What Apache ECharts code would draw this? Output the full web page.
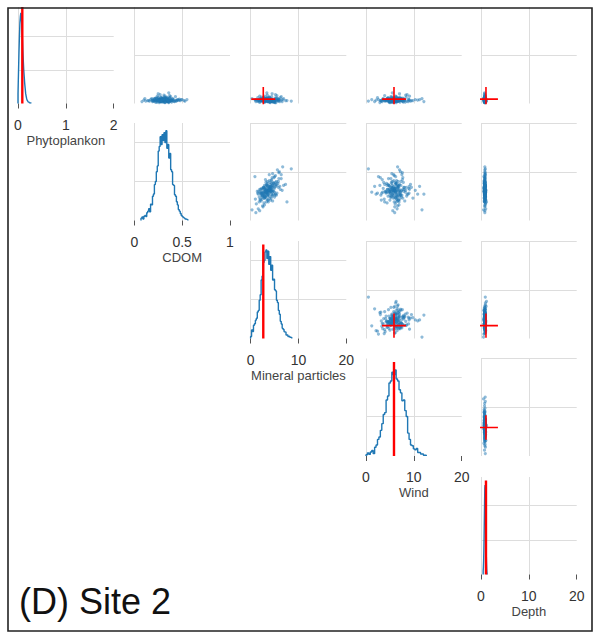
<!DOCTYPE html>
<html><head><meta charset="utf-8">
<script src="https://cdn.jsdelivr.net/npm/echarts@6/dist/echarts.min.js"></script>
<style>html,body{margin:0;padding:0;background:#fff}#c{width:596px;height:633px}</style>
</head><body><div id="c"></div>
<script>
// ---------- data ----------
const varNames = ['Phytoplankon', 'CDOM', 'Mineral particles', 'Wind', 'Depth'];
const axisMax = [2, 1, 20, 20, 20];
const axisStep = [1, 0.5, 10, 10, 10];
const trueValues = [0.09, null, 2.65, 5.85, 1.04];

// histogram bins (start, width, counts in grid units)
const phytoHistStart = 0, phytoHistStep = 0.01;
const phytoCounts = [0.3,0.9,1.5,2.0,2.4,2.6,2.7,2.55,2.3,2.0,1.6,1.3,1.0,0.8,0.6,0.45,0.3,0.22,0.15,0.1,0.08,0.05,0.04,0.03,0.02,0.02,0.01,0.01];
const cdomHistStart = 0.07, cdomHistStep = 0.01;
const cdomCounts = [0.06,0.09,0.04,0.11,0.13,0.1,0.2,0.24,0.3,0.22,0.42,0.4,0.62,0.68,0.92,1.0,1.25,1.4,1.78,1.9,2.15,1.95,2.2,2.05,2.25,2.0,2.3,1.85,1.95,1.6,1.72,1.3,1.25,0.92,0.9,0.66,0.62,0.48,0.4,0.28,0.24,0.18,0.13,0.1,0.08,0.06,0.04,0.03,0.02];
const mineralHistStart = 0, mineralHistStep = 0.2;
const mineralCounts = [0.05,0.22,0.18,0.34,0.38,0.47,0.52,0.68,0.72,0.98,1.12,1.5,1.6,1.95,2.0,2.22,2.27,2.05,2.24,1.9,2.1,1.75,1.88,1.5,1.52,1.25,1.22,0.98,0.92,0.72,0.62,0.44,0.37,0.26,0.23,0.17,0.16,0.09,0.09,0.05,0.06,0.03,0.03];
const windHistStart = 0, windHistStep = 0.3;
const windCounts = [0.03,0.08,0.04,0.1,0.14,0.06,0.22,0.28,0.42,0.48,0.65,0.82,1.05,1.1,1.42,1.52,1.85,1.9,2.12,2.05,2.18,1.95,1.9,1.68,1.6,1.4,1.42,1.15,1.0,0.58,0.42,0.28,0.26,0.18,0.16,0.19,0.09,0.09,0.05,0.05,0.02,0.02];
const depthHistStart = 0.45, depthHistStep = 0.05;
const depthCounts = [0.1,0.2,0.4,0.7,1.1,1.6,2.1,2.5,2.6,2.4,2.0,1.5,1.0,0.6,0.35,0.15,0.05];
const histYMax = [2.9, 2.5, 2.5, 2.47, 2.83];

// posterior samples
const phytoSamples = [0.06,0.09,0.04,0.11,0.07,0.03,0.08,0.13,0.05,0.10, 0.06,0.02,0.08,0.15,0.07,0.05,0.09,0.04,0.12,0.06, 0.08,0.03,0.10,0.07,0.05,0.18,0.06,0.09,0.04,0.08, 0.11,0.06,0.02,0.07,0.14,0.05,0.09,0.06,0.08,0.03, 0.10,0.07,0.05,0.12,0.06,0.09,0.04,0.08,0.16,0.06, 0.07,0.03,0.10,0.05,0.08,0.11,0.06,0.09,0.04,0.07, 0.13,0.05,0.08,0.06,0.02,0.09,0.07,0.10,0.04,0.08, 0.20,0.06,0.09,0.05,0.07,0.11,0.03,0.08,0.06,0.10, 0.05,0.08,0.12,0.04,0.07,0.09,0.06,0.14,0.05,0.08, 0.07,0.03,0.10,0.06,0.09,0.05,0.08,0.17,0.06,0.07, 0.04,0.09,0.06,0.11,0.05,0.08,0.07,0.03,0.10,0.06, 0.08,0.13,0.05,0.09,0.07,0.04,0.22,0.06,0.08,0.07, 0.05,0.10,0.06,0.08,
  0.07,0.05,0.08,0.06,0.09,0.04,0.07,0.10,0.06,0.08, 0.05,0.07,0.09,0.06,0.03,0.08,0.07,0.11,0.05,0.06, 0.08,0.07,0.04,0.09,0.06,0.12,0.07,0.05,0.08,0.06, 0.10,0.07,0.05,0.09,0.08,0.06,0.04,0.07,0.13,0.06, 0.08,0.05,0.09,0.07,0.06,0.10,0.03,0.08,0.07,0.05, 0.09,0.06,0.07,0.08,0.15,0.06];
const cdomSamples = [0.31,0.27,0.35,0.22,0.39,0.29,0.33,0.25,0.42,0.18, 0.30,0.36,0.26,0.32,0.45,0.21,0.34,0.28,0.37,0.15, 0.31,0.24,0.40,0.29,0.33,0.27,0.48,0.19,0.35,0.30, 0.23,0.38,0.26,0.32,0.43,0.12,0.29,0.34,0.25,0.36, 0.31,0.21,0.41,0.28,0.52,0.33,0.27,0.17,0.37,0.30, 0.24,0.39,0.32,0.20,0.35,0.28,0.44,0.26,0.31,0.10, 0.34,0.29,0.38,0.23,0.32,0.47,0.27,0.36,0.19,0.30, 0.25,0.40,0.33,0.28,0.22,0.35,0.31,0.49,0.14,0.29, 0.37,0.26,0.32,0.42,0.24,0.34,0.20,0.38,0.30,0.55, 0.27,0.33,0.23,0.36,0.29,0.16,0.41,0.31,0.26,0.35, 0.08,0.30,0.39,0.25,0.34,0.28,0.46,0.22,0.33,0.37, 0.29,0.31,0.44,0.21,0.32,0.27,0.36,0.24,0.50,0.30, 0.53,0.11,0.19,0.45,
  0.30,0.34,0.27,0.32,0.29,0.36,0.25,0.31,0.33,0.28, 0.38,0.26,0.30,0.35,0.23,0.32,0.29,0.37,0.27,0.31, 0.34,0.22,0.30,0.40,0.28,0.33,0.26,0.35,0.31,0.19, 0.29,0.36,0.32,0.24,0.30,0.43,0.27,0.33,0.28,0.38, 0.31,0.25,0.34,0.29,0.36,0.21,0.32,0.30,0.39,0.26, 0.33,0.28,0.47,0.31,0.24,0.35];
const mineralSamples = [4.6,2.2,3.5,3.4,4.1,5.0,2.3,3.9,4.4,2.8, 2.9,5.3,4.5,1.9,5.0,3.6,4.0,2.7,3.4,2.5, 3.8,1.8,5.8,4.1,2.6,5.2,4.6,3.3,6.1,3.0, 2.8,3.6,5.1,4.4,6.4,1.6,2.0,4.9,3.5,2.9, 3.2,4.2,3.9,1.5,5.6,3.7,4.4,1.2,5.5,4.8, 3.1,4.7,2.4,2.2,3.8,5.5,4.9,2.5,6.6,1.9, 2.7,3.4,5.7,4.3,4.1,3.9,1.6,6.9,3.7,4.6, 4.5,3.5,3.0,2.1,1.0,5.3,4.0,5.9,2.6,3.3, 4.2,3.3,6.2,3.1,2.4,2.8,4.6,4.4,1.4,6.7, 3.6,5.0,4.0,3.2,2.3,2.9,4.3,3.5,5.4,4.1, 1.1,4.3,3.2,2.9,5.8,3.8,5.2,2.0,3.0,7.3, 2.6,3.9,4.5,3.7,2.1,4.8,3.4,5.0,6.0,1.7, 8.5,0.3,7.6,0.9,
  3.5,4.1,2.8,3.9,3.2,4.6,2.5,3.7,4.3,3.0, 4.9,2.2,3.6,4.0,2.9,3.3,4.4,5.1,3.1,3.8, 2.7,2.4,4.2,5.4,3.4,3.9,2.6,4.7,3.2,1.8, 3.6,4.5,2.9,3.0,4.1,5.9,3.7,3.4,2.3,4.8, 3.9,2.8,4.4,3.3,3.5,2.0,4.0,3.1,5.2,3.6, 4.3,2.5,6.4,3.8,3.0,4.2];
const windSamples = [5.8,7.1,4.9,6.4,3.7,8.2,6.0,5.3,7.6,4.4, 6.8,2.9,5.6,9.1,6.2,3.2,7.9,5.1,4.6,6.6, 10.3,5.9,7.3,4.1,6.1,8.6,5.4,6.9,1.8,5.7, 7.7,4.3,6.3,8.0,5.2,6.5,3.5,9.5,6.7,4.8, 7.4,5.0,6.4,2.4,7.0,5.5,8.8,6.1,3.9,6.9, 5.3,7.8,4.5,6.6,11.2,5.8,3.0,7.2,6.0,5.6, 8.4,4.7,6.3,9.8,5.0,7.5,2.1,6.7,5.9,4.2, 7.0,5.5,8.9,6.2,3.8,6.8,5.1,7.6,6.0,4.9, 9.3,5.7,6.5,3.4,7.4,5.2,8.1,6.3,4.0,6.6, 10.8,5.4,6.1,7.3,4.4,6.9,5.8,8.3,3.1,6.4, 6.0,7.9,5.3,4.6,6.7,9.0,5.9,7.1,3.6,6.2, 1.2,5.6,7.7,6.8,4.8,12.1,5.5,6.5,7.2,5.0, 0.5,11.7,6.3,2.6,
  6.1,5.4,6.8,5.9,7.2,4.8,6.4,5.6,6.9,5.2, 6.3,7.5,5.0,6.6,5.7,4.5,6.2,7.0,5.5,6.0, 8.0,6.5,5.3,6.7,4.2,6.1,7.3,5.8,6.4,3.9, 5.6,6.9,7.7,5.1,6.2,4.7,6.5,5.9,7.1,5.4, 6.0,8.5,5.7,6.3,4.4,6.8,5.5,7.4,6.1,5.0, 6.6,3.3,5.8,7.0,6.2,9.0];
const depthSamples = [0.78,0.84,0.71,0.92,0.80,0.66,0.88,0.75,0.83,0.97, 0.59,0.81,0.73,0.86,0.79,1.02,0.69,0.90,0.77,0.82, 0.74,0.95,0.63,0.85,0.80,0.71,0.88,0.76,0.93,0.68, 0.84,0.79,0.87,0.72,0.81,0.99,0.77,0.65,0.89,0.83, 0.74,0.91,0.70,0.86,0.80,0.57,0.78,0.94,0.82,0.73, 0.87,0.76,0.84,0.68,0.90,0.79,0.85,0.72,1.08,0.81, 0.77,0.88,0.62,0.83,0.75,0.86,0.80,0.93,0.71,0.84, 0.78,0.89,0.66,0.82,0.76,0.91,0.73,0.85,0.79,1.00, 0.74,0.87,0.69,0.81,0.95,0.77,0.83,0.72,0.88,0.80, 0.76,0.90,0.64,0.85,0.79,0.82,0.74,0.87,0.78,0.93, 0.80,0.71,0.86,0.76,0.84,0.68,0.89,0.81,0.77,0.92, 0.73,0.85,0.79,0.83,0.70,0.88,0.75,0.87,0.82,0.78, 0.90,0.53,1.15,0.60,
  0.80,0.77,0.84,0.79,0.82,0.75,0.86,0.81,0.78,0.83, 0.76,0.88,0.80,0.73,0.85,0.79,0.82,0.77,0.90,0.81, 0.74,0.84,0.79,0.87,0.80,0.72,0.83,0.78,0.86,0.81, 0.76,0.89,0.80,0.84,0.70,0.82,0.78,0.85,0.79,0.94, 0.81,0.75,0.83,0.77,0.88,0.80,0.73,0.86,0.82,0.79, 0.84,0.76,0.81,0.91,0.78,0.67];

const titleText = '(D) Site 2';

// ---------- layout / styles ----------
const colLeft = [18, 134.3, 250.6, 366, 481];
const rowTop = [6, 123, 241, 358.5, 477];
const cellW = 95.7, cellH = 97.5;
const FONT = '"Liberation Sans", Arial, Helvetica, sans-serif';
const BLUE = '#1f77b4';
const GRIDC = '#dddddd';

const samples = [phytoSamples, cdomSamples, mineralSamples, windSamples, depthSamples];
const hists = [
  [phytoHistStart, phytoHistStep, phytoCounts],
  [cdomHistStart, cdomHistStep, cdomCounts],
  [mineralHistStart, mineralHistStep, mineralCounts],
  [windHistStart, windHistStep, windCounts],
  [depthHistStart, depthHistStep, depthCounts]
];

function stepPts(start, step, counts) {
  const pts = [[start, 0]];
  counts.forEach((v, j) => {
    const a = start + j * step, b = start + (j + 1) * step;
    pts.push([a, v], [b, v]);
  });
  pts.push([start + counts.length * step, 0]);
  return pts;
}

const grid = [], xAxis = [], yAxis = [], series = [];
let k = 0;
for (let r = 0; r < 5; r++) {
  for (let c = r; c < 5; c++) {
    const diag = r === c;
    grid.push({ left: colLeft[c], top: rowTop[r], width: cellW, height: cellH });
    xAxis.push({
      gridIndex: k, type: 'value', min: 0, max: axisMax[c], interval: axisStep[c],
      offset: 6,
      axisLine: { show: false },
      axisTick: { show: diag, length: 5, lineStyle: { color: '#555', width: 1 } },
      axisLabel: { show: diag, margin: 8, color: '#333', fontSize: 14, fontFamily: FONT },
      name: diag ? varNames[c] : '', nameLocation: 'middle', nameGap: 24,
      nameTextStyle: { color: '#444', fontSize: 13, fontFamily: FONT },
      splitLine: { show: true, showMinLine: true, showMaxLine: false, lineStyle: { color: GRIDC, width: 1 } }
    });
    if (diag) {
      yAxis.push({
        gridIndex: k, type: 'value', min: 0, max: histYMax[r], interval: 1,
        axisLine: { show: false }, axisTick: { show: false }, axisLabel: { show: false },
        splitLine: { show: true, showMinLine: false, showMaxLine: false, lineStyle: { color: GRIDC, width: 1 } }
      });
      const h = hists[r];
      series.push({
        type: 'line', xAxisIndex: k, yAxisIndex: k, data: stepPts(h[0], h[1], h[2]),
        symbol: 'none', lineStyle: { color: BLUE, width: 1.4 }, z: 3
      });
      if (trueValues[r] !== null) {
        const top = r === 0 ? histYMax[r] : histYMax[r] * 0.965;
        series.push({
          type: 'line', xAxisIndex: k, yAxisIndex: k,
          data: [[trueValues[r], 0], [trueValues[r], top]],
          symbol: 'none', lineStyle: { color: '#ff0000', width: 2.4 }, z: 4
        });
      }
    } else {
      yAxis.push({
        gridIndex: k, type: 'value', min: 0, max: axisMax[r], interval: axisStep[r],
        axisLine: { show: false }, axisTick: { show: false }, axisLabel: { show: false },
        splitLine: { show: true, showMinLine: false, showMaxLine: true, lineStyle: { color: GRIDC, width: 1 } }
      });
      const xs = samples[c], ys = samples[r];
      const n = Math.min(xs.length, ys.length);
      const pts = [];
      for (let i = 0; i < n; i++) pts.push([xs[i], ys[i]]);
      series.push({
        type: 'scatter', xAxisIndex: k, yAxisIndex: k, data: pts,
        symbolSize: 3.2, itemStyle: { color: BLUE, opacity: 0.5 }, z: 3
      });
      if (trueValues[r] !== null && trueValues[c] !== null) {
        const tx = trueValues[c], ty = trueValues[r];
        const lx = axisMax[c] * 0.125, ly = axisMax[r] * 0.125;
        series.push({
          type: 'line', xAxisIndex: k, yAxisIndex: k, clip: true,
          data: [[tx - lx, ty], [tx + lx, ty]],
          symbol: 'none', lineStyle: { color: '#ff0000', width: 1.6 }, z: 4
        });
        series.push({
          type: 'line', xAxisIndex: k, yAxisIndex: k, clip: true,
          data: [[tx, ty - ly], [tx, ty + ly]],
          symbol: 'none', lineStyle: { color: '#ff0000', width: 1.6 }, z: 4
        });
      }
    }
    k++;
  }
}

const chart = echarts.init(document.getElementById('c'), null, { renderer: 'svg' });
chart.setOption({
  backgroundColor: '#ffffff',
  animation: false,
  grid, xAxis, yAxis, series,
  graphic: [
    { type: 'rect', z: 90, shape: { x: 0, y: 0, width: 596, height: 7 }, style: { fill: '#fff' } },
    { type: 'rect', z: 100, shape: { x: 8, y: 8, width: 584, height: 623 }, style: { fill: 'none', stroke: '#222', lineWidth: 1.6 } },
    { type: 'text', z: 100, left: 19, top: 583, style: { text: titleText, font: '36px ' + FONT, fill: '#111' } }
  ]
});
</script>
</body></html>
